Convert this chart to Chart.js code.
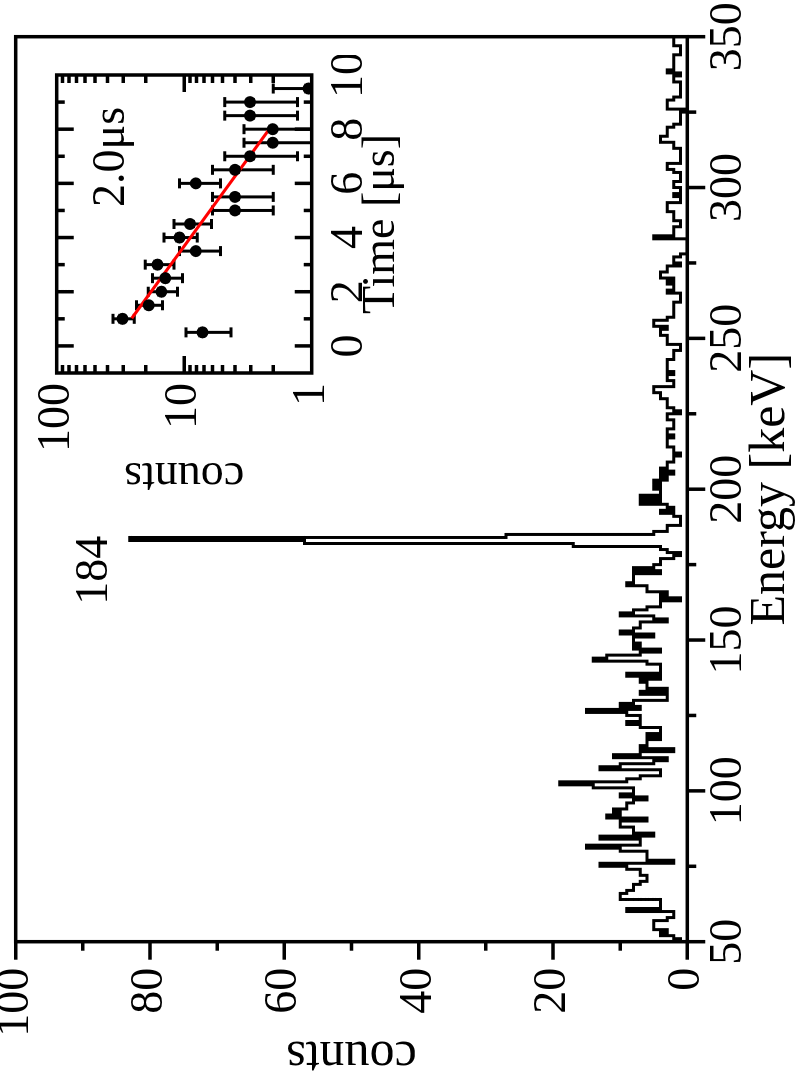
<!DOCTYPE html>
<html>
<head>
<meta charset="utf-8">
<script src="https://cdn.jsdelivr.net/npm/chart.js@4.4.1/dist/chart.umd.min.js"></script>
<style>
  html, body { margin: 0; padding: 0; background: #fff; }
  body { width: 797px; height: 1075px; overflow: hidden; position: relative; }
  /* the figure is drawn upright and then turned a quarter turn left */
  #turn {
    position: absolute; left: 0; top: 0; width: 1075px; height: 797px;
    transform-origin: 0 0; transform: translate(0px, 1075px) rotate(-90deg);
  }
  #main { position: absolute; left: 0; top: 0; }
  #inset { position: absolute; left: 570px; top: 20px; }
</style>
</head>
<body>
<div id="turn">
  <canvas id="main" width="1075" height="797"></canvas>
  <canvas id="inset" width="450" height="400"></canvas>
</div>
<script>
// spectrum, 1 keV bins starting at 50 keV
const energyStart = 50;
const histCounts = [
  1, 1, 2, 4, 3, 5, 5, 5, 3, 2,
  2, 9, 4, 4, 4, 10, 10, 9, 8, 8,
  7, 6, 6, 7, 7, 9, 13, 2, 6, 6,
  6, 10, 15, 7, 7, 13, 5, 8, 8, 10,
  10, 6, 12, 10, 11, 9, 9, 8, 6, 10,
  8, 8, 14, 19, 9, 7, 4, 4, 13, 10,
  5, 3, 11, 7, 2, 7, 6, 6, 4, 6,
  4, 4, 7, 9, 7, 7, 9, 15, 7, 10,
  8, 3, 3, 7, 3, 6, 6, 7, 4, 9,
  4, 4, 4, 6, 14, 12, 7, 4, 8, 7,
  8, 8, 5, 10, 8, 7, 7, 3, 5, 10,
  8, 6, 4, 4, 1, 4, 3, 6, 6, 9,
  8, 8, 8, 4, 8, 5, 4, 4, 2, 1,
  3, 4, 17, 57, 83, 27, 5, 3, 3, 1,
  1, 1, 2, 4, 2, 3, 7, 4, 7, 4,
  4, 5, 4, 5, 3, 4, 2, 4, 3, 3,
  2, 2, 1, 2, 2, 3, 3, 3, 2, 3,
  3, 2, 2, 2, 3, 3, 1, 2, 3, 3,
  3, 4, 4, 5, 5, 2, 2, 3, 3, 2,
  3, 3, 3, 3, 2, 2, 2, 1, 1, 3,
  3, 3, 4, 4, 3, 5, 5, 3, 2, 2,
  2, 2, 2, 1, 1, 1, 3, 2, 2, 3,
  2, 4, 4, 3, 3, 1, 2, 2, 1, 0,
  0, 0, 0, 0, 5, 2, 2, 2, 1, 1,
  2, 2, 2, 3, 3, 3, 1, 1, 2, 1,
  1, 2, 2, 1, 1, 1, 2, 3, 3, 1,
  1, 1, 1, 1, 2, 2, 4, 4, 3, 3,
  3, 2, 1, 1, 1, 1, 0, 3, 3, 3,
  2, 1, 1, 1, 1, 1, 2, 2, 1, 3,
  2, 2, 2, 2, 2, 1, 1, 1, 2, 2
];
const energyMajor = [50, 100, 150, 200, 250, 300, 350];
const energyMinor = [75, 125, 175, 225, 275, 325];
const countMajor = [0, 20, 40, 60, 80, 100];
const countMinor = [10, 30, 50, 70, 90];

// inset: decay curve
const insetTime = [0.5, 1.0, 1.5, 2.0, 2.5, 3.0, 3.5, 4.0, 4.5, 5.0, 5.5, 6.0, 6.5, 7.0, 7.5, 8.0, 8.5, 9.0, 9.5];
const insetCounts = [7.2, 30.5, 19, 15.1, 14.1, 16.2, 8.1, 10.9, 9.0, 4.0, 4.0, 8.1, 4.0, 3.05, 2.02, 2.02, 3.05, 3.05, 1.06];
const insetErrLow = [4.3, 24.7, 14.8, 11.3, 10.3, 12.0, 5.2, 7.9, 6.1, 2.0, 2.0, 5.2, 2.0, 1.29, 0.5, 0.5, 1.29, 1.29, 0.5];
const insetErrHigh = [9.7, 36.1, 23.7, 19.1, 17.7, 20.2, 10.9, 14.4, 12.0, 6.0, 6.0, 10.9, 6.0, 4.8, 3.4, 3.4, 4.8, 4.8, 2.0];
const fitTime = [1.02, 8.0];
const fitCounts = [25.8, 2.15];
const timeLabels = [0, 2, 4, 6, 8, 10];
const insetCountLabels = [1, 10, 100];

const serif = '"Liberation Serif", "Times New Roman", serif';

// step points: each bin drawn from its left edge to the next
const histPoints = histCounts.map((c, i) => ({ x: energyStart + i, y: c }));
histPoints.push({ x: energyStart + histCounts.length, y: histCounts[histCounts.length - 1] });

const mainFrame = {
  id: 'mainFrame',
  afterDraw(chart) {
    const { ctx, chartArea: a, scales: { x, y } } = chart;
    ctx.save();
    ctx.strokeStyle = '#000';
    ctx.lineWidth = 3.5;
    ctx.strokeRect(a.left, a.top, a.right - a.left, a.bottom - a.top);
    ctx.beginPath();
    energyMajor.forEach(e => { const p = x.getPixelForValue(e); ctx.moveTo(p, a.bottom); ctx.lineTo(p, a.bottom + 18); });
    energyMinor.forEach(e => { const p = x.getPixelForValue(e); ctx.moveTo(p, a.bottom); ctx.lineTo(p, a.bottom + 9); });
    countMajor.forEach(c => { const p = y.getPixelForValue(c); ctx.moveTo(a.left, p); ctx.lineTo(a.left - 18, p); });
    countMinor.forEach(c => { const p = y.getPixelForValue(c); ctx.moveTo(a.left, p); ctx.lineTo(a.left - 9, p); });
    ctx.stroke();
    ctx.fillStyle = '#000';
    ctx.font = '46px ' + serif;
    ctx.textAlign = 'right';
    ctx.textBaseline = 'alphabetic';
    ctx.fillText('184', x.getPixelForValue(184.6), y.getPixelForValue(86.4));
    ctx.restore();
  }
};

new Chart(document.getElementById('main'), {
  type: 'line',
  data: {
    datasets: [{
      data: histPoints,
      stepped: 'after',
      borderColor: '#000',
      borderWidth: 3,
      pointRadius: 0,
      fill: false
    }]
  },
  options: {
    responsive: false,
    animation: false,
    layout: { padding: { top: 15.7, right: 36.7, left: 0, bottom: 0 } },
    plugins: { legend: { display: false }, tooltip: { enabled: false } },
    scales: {
      x: {
        type: 'linear', min: 50, max: 350,
        afterFit: s => { s.height = 109.7; s.paddingLeft = 0; s.paddingRight = 0; },
        grid: { display: false, drawTicks: false },
        border: { display: false },
        ticks: {
          stepSize: 50, autoSkip: false, maxRotation: 0, padding: 14,
          color: '#000', font: { family: serif, size: 46 },
          callback: v => energyMajor.includes(v) ? String(v) : ''
        },
        title: {
          display: true, text: 'Energy [keV]', color: '#000',
          font: { family: serif, size: 50, lineHeight: 1 },
          padding: { top: 0, bottom: 1 }
        }
      },
      y: {
        min: 0, max: 100,
        afterFit: s => { s.width = 133.3; s.paddingTop = 0; s.paddingBottom = 0; },
        grid: { display: false, drawTicks: false },
        border: { display: false },
        ticks: {
          stepSize: 20, autoSkip: false, padding: 26,
          color: '#000', font: { family: serif, size: 46 },
          callback: v => countMajor.includes(v) ? String(v) : ''
        },
        title: {
          display: true, text: 'counts', color: '#000',
          font: { family: serif, size: 50, lineHeight: 0.8 },
          padding: { top: 0, bottom: 0 }
        }
      }
    }
  },
  plugins: [mainFrame]
});

const insetDraw = {
  id: 'insetDraw',
  beforeDatasetsDraw(chart) {
    const { ctx, chartArea: a, scales: { x, y } } = chart;
    ctx.save();
    ctx.beginPath();
    ctx.rect(a.left, a.top, a.right - a.left, a.bottom - a.top);
    ctx.clip();
    ctx.strokeStyle = '#000';
    ctx.lineWidth = 3;
    ctx.beginPath();
    insetTime.forEach((t, i) => {
      const px = x.getPixelForValue(t);
      const lo = y.getPixelForValue(insetErrLow[i]);
      const hi = y.getPixelForValue(insetErrHigh[i]);
      ctx.moveTo(px, lo); ctx.lineTo(px, hi);
      ctx.moveTo(px - 5, lo); ctx.lineTo(px + 5, lo);
      ctx.moveTo(px - 5, hi); ctx.lineTo(px + 5, hi);
    });
    ctx.stroke();
    ctx.restore();
  },
  afterDraw(chart) {
    const { ctx, chartArea: a, scales: { x, y } } = chart;
    ctx.save();
    ctx.strokeStyle = '#000';
    ctx.lineWidth = 3.5;
    ctx.strokeRect(a.left, a.top, a.right - a.left, a.bottom - a.top);
    ctx.beginPath();
    for (let t = 0; t < 10; t++) {
      const p = x.getPixelForValue(t);
      const len = t % 2 === 0 ? 17 : 8;
      ctx.moveTo(p, a.bottom); ctx.lineTo(p, a.bottom - len);
      ctx.moveTo(p, a.top); ctx.lineTo(p, a.top + len);
    }
    [1, 10].forEach(dec => {
      for (let m = 1; m <= 9; m++) {
        const v = dec * m;
        if (v === 1) continue;
        const p = y.getPixelForValue(v);
        const len = v === 10 ? 17 : 8;
        ctx.moveTo(a.left, p); ctx.lineTo(a.left + len, p);
        ctx.moveTo(a.right, p); ctx.lineTo(a.right - len, p);
      }
    });
    ctx.stroke();
    ctx.fillStyle = '#000';
    ctx.font = '46px ' + serif;
    ctx.textAlign = 'left';
    ctx.textBaseline = 'alphabetic';
    ctx.fillText('2.0\u03bcs', x.getPixelForValue(5.13), y.getPixelForValue(29.6));
    ctx.restore();
  }
};

new Chart(document.getElementById('inset'), {
  type: 'scatter',
  data: {
    datasets: [
      {
        data: insetTime.map((t, i) => ({ x: t, y: insetCounts[i] })),
        pointRadius: 6,
        pointBackgroundColor: '#000',
        pointBorderColor: '#000',
        pointBorderWidth: 0,
        showLine: false
      },
      {
        data: fitTime.map((t, i) => ({ x: t, y: fitCounts[i] })),
        showLine: true,
        borderColor: '#ff0000',
        borderWidth: 3,
        pointRadius: 0
      }
    ]
  },
  options: {
    responsive: false,
    animation: false,
    layout: { padding: { top: 36.7, right: 20, left: 0, bottom: 0 } },
    plugins: { legend: { display: false }, tooltip: { enabled: false } },
    scales: {
      x: {
        type: 'linear', min: -1, max: 10,
        afterFit: s => { s.height = 108.3; s.paddingLeft = 0; s.paddingRight = 0; },
        grid: { display: false, drawTicks: false },
        border: { display: false },
        ticks: {
          stepSize: 1, autoSkip: false, maxRotation: 0, padding: 11,
          color: '#000', font: { family: serif, size: 46 },
          callback: v => timeLabels.includes(v) ? String(v) : ''
        },
        title: {
          display: true, text: 'Time [\u03bcs]', color: '#000',
          font: { family: serif, size: 46, lineHeight: 1 },
          padding: { top: 0, bottom: 15 }
        }
      },
      y: {
        type: 'logarithmic', min: 1, max: 100,
        afterFit: s => { s.width = 132; s.paddingTop = 0; s.paddingBottom = 0; },
        grid: { display: false, drawTicks: false },
        border: { display: false },
        ticks: {
          autoSkip: false, padding: 10,
          color: '#000', font: { family: serif, size: 46 },
          callback: v => insetCountLabels.some(l => Math.abs(l - v) < 1e-6) ? String(Math.round(v)) : ''
        },
        title: {
          display: true, text: 'counts', color: '#000',
          font: { family: serif, size: 46, lineHeight: 1 },
          padding: { top: 7, bottom: 0 }
        }
      }
    }
  },
  plugins: [insetDraw]
});
</script>
</body>
</html>
